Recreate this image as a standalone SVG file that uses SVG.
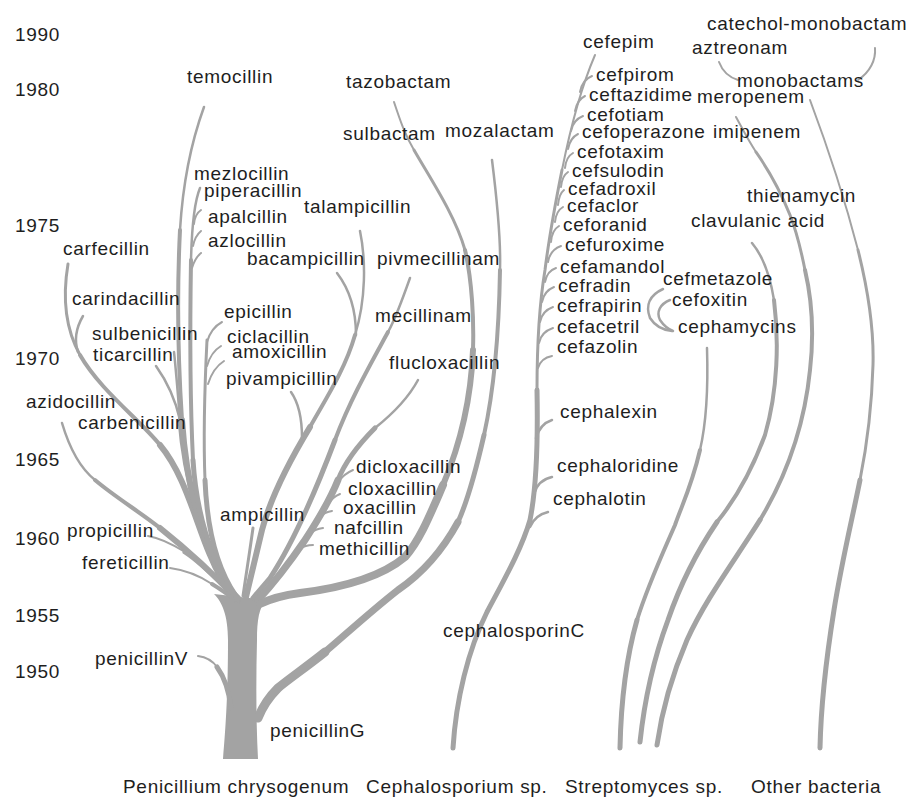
<svg xmlns="http://www.w3.org/2000/svg" width="914" height="801" viewBox="0 0 914 801">
<style>
.b{fill:none;stroke:#a3a3a3;stroke-linecap:round;stroke-linejoin:round}
.w2{stroke-width:2}.w25{stroke-width:2.5}.w3{stroke-width:3}.w4{stroke-width:4}.w5{stroke-width:5}.w6{stroke-width:6}.w7{stroke-width:7}.w8{stroke-width:8}.w9{stroke-width:9}
text{font-family:"Liberation Sans",Arial,Helvetica,sans-serif;font-size:19px;letter-spacing:0.7px;fill:#1e1e1e}
</style>
<rect width="914" height="801" fill="#ffffff"/>
<g id="connectors">
<path id="trunk" d="M223,759 L258,759 C256,720 256,680 257,640 C257,620 259,608 266,600 L214,594 C222,602 228,615 228,640 C228,690 226,725 223,759 Z" fill="#a3a3a3"/>
<!-- carfecillin -->
<path class="b w3" d="M68,264 C62,300 66,330 80,355"/>
<path class="b w4" d="M80,355 C100,390 140,420 160,445"/>
<path class="b w6" d="M160,445 C185,475 195,520 210,555 C218,575 228,590 236,600"/>
<path class="b w25" d="M83,316 C76,328 74,340 78,352"/>
<!-- azidocillin -->
<path class="b w25" d="M62,423 C70,450 80,468 95,480"/>
<path class="b w4" d="M95,480 C115,497 140,512 160,528"/>
<path class="b w6" d="M160,528 C185,548 210,570 236,598"/>
<!-- propicillin -->
<path class="b w2" d="M148,536 C160,538 172,544 185,552"/>
<path class="b w5" d="M185,552 C205,565 222,585 238,600"/>
<!-- fereticillin -->
<path class="b w2" d="M170,568 C185,570 200,576 212,584"/>
<path class="b w4" d="M212,584 C222,590 230,596 238,602"/>
<!-- sulbenicillin / ticarcillin / carbenicillin -->
<path class="b w25" d="M174,352 C176,370 178,395 180,420"/>
<path class="b w25" d="M156,366 C166,380 175,398 180,420"/>
<path class="b w5" d="M180,420 C183,460 192,500 205,540 C215,570 228,590 238,600"/>
<!-- temocillin -->
<path class="b w25" d="M204,107 C192,140 183,180 180,230"/>
<path class="b w4" d="M180,230 C177,290 178,360 182,420"/>
<path class="b w6" d="M182,420 C186,480 200,540 225,585 L238,598"/>
<!-- mezlocillin line -->
<path class="b w25" d="M200,188 C195,200 192,220 191,260"/>
<path class="b w4" d="M191,260 C190,320 190,400 193,460"/>
<path class="b w5" d="M193,460 C196,510 210,560 234,594"/>
<path class="b w2" d="M201,210 Q195,214 194,224"/>
<path class="b w2" d="M201,231 Q195,236 193,246"/>
<path class="b w2" d="M201,253 Q195,258 192,268"/>
<!-- epicillin line -->
<path class="b w3" d="M207,340 C205,380 203,430 205,480"/>
<path class="b w5" d="M205,480 C207,530 218,570 236,596"/>
<path class="b w2" d="M222,322 Q211,328 207,342"/>
<path class="b w2" d="M221,346 Q211,352 207,366"/>
<path class="b w2" d="M224,361 Q213,368 208,384"/>
<!-- ampicillin -->
<path class="b w3" d="M253,528 C250,550 246,575 243,596"/>
<!-- ampicillin esters -->
<path class="b w25" d="M360,231 C366,260 366,300 355,335"/>
<path class="b w4" d="M355,335 C345,370 325,400 310,427"/>
<path class="b w6" d="M310,427 C290,460 270,500 262,530 C255,560 250,580 246,597"/>
<path class="b w25" d="M337,273 C350,290 356,310 356,335"/>
<path class="b w25" d="M291,392 C298,402 302,418 302,438"/>
<!-- mecillinam -->
<path class="b w25" d="M410,278 C402,300 396,318 388,332"/>
<path class="b w4" d="M388,332 C370,365 350,400 335,440"/>
<path class="b w5" d="M335,440 C318,485 295,540 270,578 L253,598"/>
<!-- flucloxacillin -->
<path class="b w25" d="M418,380 C410,395 395,412 375,428"/>
<path class="b w5" d="M375,428 C358,445 345,462 338,480"/>
<path class="b w7" d="M338,480 C330,500 318,520 305,540 C290,562 272,585 258,600"/>
<path class="b w2" d="M353,470 Q344,474 339,481"/>
<path class="b w2" d="M340,494 Q333,497 329,503"/>
<path class="b w2" d="M332,511 Q325,512 321,516"/>
<path class="b w2" d="M323,528 Q315,529 311,533"/>
<path class="b w2" d="M313,545 Q305,545 300,549"/>
<!-- sulbactam / tazobactam -->
<path class="b w2" d="M394,102 C400,120 405,135 414,150"/>
<path class="b w3" d="M414,150 C430,178 455,215 465,250"/>
<path class="b w4" d="M465,250 C472,280 474,320 473,350"/>
<path class="b w6" d="M473,350 C471,400 460,445 443,485"/>
<path class="b w8" d="M443,485 C430,515 420,540 405,557 C380,578 340,588 300,593 C285,595 272,598 260,604"/>
<!-- mozalactam -->
<path class="b w25" d="M492,160 C497,200 501,240 500,270"/>
<path class="b w4" d="M500,270 C499,330 494,390 484,435"/>
<path class="b w5" d="M484,435 C476,470 468,500 458,522"/>
<path class="b w7" d="M458,522 C440,555 420,575 398,590 C370,612 345,635 325,652"/>
<path class="b w9" d="M325,652 C305,668 290,678 278,688 C268,698 262,708 258,718"/>
<!-- penicillinV -->
<path class="b w2" d="M198,656 C206,657 212,660 217,667"/>
<path class="b w5" d="M217,667 C225,678 229,690 231,708"/>
<!-- cephalosporin stem -->
<path class="b w2" d="M595,55 C580,90 570,130 562,170"/>
<path class="b w3" d="M562,170 C556,200 550,230 545,270 C540,300 537,340 537,390"/>
<path class="b w5" d="M537,390 C538,440 536,490 530,520 C522,548 505,578 487,612 C468,650 456,700 453,748"/>
<path class="b w2" d="M580,92 Q582,80 592,76"/>
<path class="b w2" d="M575,111 Q577,100 585,96"/>
<path class="b w2" d="M571,131 Q573,120 583,116"/>
<path class="b w2" d="M568,149 Q570,138 578,134"/>
<path class="b w2" d="M565,168 Q566,157 573,153"/>
<path class="b w2" d="M561,187 Q562,176 568,172"/>
<path class="b w2" d="M558,205 Q559,194 564,190"/>
<path class="b w2" d="M555,222 Q556,211 563,207"/>
<path class="b w2" d="M551,242 Q552,230 559,226"/>
<path class="b w2" d="M548,262 Q550,250 561,246"/>
<path class="b w2" d="M545,282 Q547,271 556,268"/>
<path class="b w2" d="M542,302 Q544,291 554,287"/>
<path class="b w2" d="M540,322 Q542,311 553,307"/>
<path class="b w2" d="M539,343 Q541,332 553,328"/>
<path class="b w2" d="M538,368 Q541,358 552,356"/>
<path class="b w25" d="M536,438 Q540,424 552,420"/>
<path class="b w25" d="M534,494 Q538,480 552,477"/>
<path class="b w25" d="M530,527 Q535,515 548,512"/>
<!-- cephamycins -->
<path class="b w25" d="M663,289 C650,295 645,305 650,318 C655,326 663,330 672,331"/>
<path class="b w25" d="M670,300 C660,304 656,312 660,320 C664,326 668,329 673,331"/>
<path class="b w25" d="M707,348 C708,380 707,420 700,450"/>
<path class="b w4" d="M700,450 C692,485 682,505 675,525 C662,555 648,585 637,620"/>
<path class="b w5" d="M637,620 C627,655 621,700 620,748"/>
<!-- clavulanic acid -->
<path class="b w25" d="M752,243 C762,255 770,275 774,300"/>
<path class="b w4" d="M774,300 C779,340 778,390 765,435 C752,470 735,500 717,522"/>
<path class="b w5" d="M717,522 C698,550 680,585 668,620 C655,655 645,695 640,742"/>
<!-- meropenem / imipenem / thienamycin -->
<path class="b w2" d="M736,117 C742,128 748,140 756,152"/>
<path class="b w3" d="M756,152 C770,172 782,195 790,215 C798,235 802,255 805,270"/>
<path class="b w4" d="M805,270 C812,300 814,335 810,370 C805,420 790,470 760,520"/>
<path class="b w5" d="M760,520 C735,560 705,600 687,640 C672,675 662,710 657,745"/>
<!-- monobactams -->
<path class="b w2" d="M719,62 C722,70 728,77 738,80"/>
<path class="b w2" d="M875,48 C876,60 870,72 858,80"/>
<path class="b w2" d="M810,100 C825,140 845,200 858,250"/>
<path class="b w3" d="M858,250 C868,290 874,330 873,365 C872,400 868,440 860,480"/>
<path class="b w5" d="M860,480 C852,520 842,560 834,610 C826,660 821,700 820,748"/>
</g>
<g id="years">
<text x="15" y="41">1990</text>
<text x="15" y="96">1980</text>
<text x="15" y="232">1975</text>
<text x="15" y="365">1970</text>
<text x="15" y="466">1965</text>
<text x="15" y="545">1960</text>
<text x="15" y="622">1955</text>
<text x="15" y="678">1950</text>
</g>
<g id="n-temocillin"><text x="187" y="83">temocillin</text></g>
<g id="n-mezlocillin"><text x="194" y="180">mezlocillin</text></g>
<g id="n-piperacillin"><text x="204" y="197">piperacillin</text></g>
<g id="n-apalcillin"><text x="208" y="223">apalcillin</text></g>
<g id="n-azlocillin"><text x="208" y="247">azlocillin</text></g>
<g id="n-carfecillin"><text x="63" y="255">carfecillin</text></g>
<g id="n-talampicillin"><text x="304" y="213">talampicillin</text></g>
<g id="n-bacampicillin"><text x="247" y="265">bacampicillin</text></g>
<g id="n-pivmecillinam"><text x="377" y="265">pivmecillinam</text></g>
<g id="n-carindacillin"><text x="72" y="305">carindacillin</text></g>
<g id="n-epicillin"><text x="224" y="318">epicillin</text></g>
<g id="n-mecillinam"><text x="375" y="322">mecillinam</text></g>
<g id="n-sulbenicillin"><text x="92" y="340">sulbenicillin</text></g>
<g id="n-ciclacillin"><text x="227" y="343">ciclacillin</text></g>
<g id="n-amoxicillin"><text x="232" y="358">amoxicillin</text></g>
<g id="n-ticarcillin"><text x="93" y="361">ticarcillin</text></g>
<g id="n-flucloxacillin"><text x="389" y="369">flucloxacillin</text></g>
<g id="n-pivampicillin"><text x="226" y="385">pivampicillin</text></g>
<g id="n-azidocillin"><text x="26" y="408">azidocillin</text></g>
<g id="n-carbenicillin"><text x="78" y="429">carbenicillin</text></g>
<g id="n-dicloxacillin"><text x="356" y="473">dicloxacillin</text></g>
<g id="n-cloxacillin"><text x="348" y="495">cloxacillin</text></g>
<g id="n-oxacillin"><text x="343" y="514">oxacillin</text></g>
<g id="n-ampicillin"><text x="220" y="521">ampicillin</text></g>
<g id="n-nafcillin"><text x="334" y="534">nafcillin</text></g>
<g id="n-propicillin"><text x="67" y="537">propicillin</text></g>
<g id="n-methicillin"><text x="319" y="555">methicillin</text></g>
<g id="n-fereticillin"><text x="82" y="569">fereticillin</text></g>
<g id="n-penicillinV"><text x="95" y="665">penicillinV</text></g>
<g id="n-penicillinG"><text x="270" y="737">penicillinG</text></g>
<g id="n-tazobactam"><text x="346" y="88">tazobactam</text></g>
<g id="n-sulbactam"><text x="343" y="140">sulbactam</text></g>
<g id="n-mozalactam"><text x="445" y="137">mozalactam</text></g>
<g id="n-cephalosporinC"><text x="443" y="637">cephalosporinC</text></g>
<g id="n-cefepim"><text x="583" y="48">cefepim</text></g>
<g id="n-cefpirom"><text x="596" y="81">cefpirom</text></g>
<g id="n-ceftazidime"><text x="589" y="101">ceftazidime</text></g>
<g id="n-cefotiam"><text x="587" y="121">cefotiam</text></g>
<g id="n-cefoperazone"><text x="582" y="138">cefoperazone</text></g>
<g id="n-cefotaxim"><text x="577" y="158">cefotaxim</text></g>
<g id="n-cefsulodin"><text x="572" y="177">cefsulodin</text></g>
<g id="n-cefadroxil"><text x="568" y="195">cefadroxil</text></g>
<g id="n-cefaclor"><text x="567" y="212">cefaclor</text></g>
<g id="n-ceforanid"><text x="563" y="231">ceforanid</text></g>
<g id="n-cefuroxime"><text x="565" y="251">cefuroxime</text></g>
<g id="n-cefamandol"><text x="560" y="273">cefamandol</text></g>
<g id="n-cefradin"><text x="558" y="292">cefradin</text></g>
<g id="n-cefrapirin"><text x="557" y="312">cefrapirin</text></g>
<g id="n-cefacetril"><text x="557" y="333">cefacetril</text></g>
<g id="n-cefazolin"><text x="557" y="353">cefazolin</text></g>
<g id="n-cephalexin"><text x="560" y="418">cephalexin</text></g>
<g id="n-cephaloridine"><text x="557" y="472">cephaloridine</text></g>
<g id="n-cephalotin"><text x="553" y="505">cephalotin</text></g>
<g id="n-cefmetazole"><text x="663" y="285">cefmetazole</text></g>
<g id="n-cefoxitin"><text x="672" y="306">cefoxitin</text></g>
<g id="n-cephamycins"><text x="678" y="333">cephamycins</text></g>
<g id="n-catechol-monobactam"><text x="707" y="30">catechol-monobactam</text></g>
<g id="n-aztreonam"><text x="692" y="54">aztreonam</text></g>
<g id="n-monobactams"><text x="737" y="87">monobactams</text></g>
<g id="n-meropenem"><text x="697" y="103">meropenem</text></g>
<g id="n-imipenem"><text x="713" y="138">imipenem</text></g>
<g id="n-thienamycin"><text x="747" y="202">thienamycin</text></g>
<g id="n-clavulanic"><text x="691" y="227">clavulanic acid</text></g>
<g id="captions">
<text x="123" y="793">Penicillium chrysogenum</text>
<text x="366" y="793">Cephalosporium sp.</text>
<text x="565" y="793">Streptomyces sp.</text>
<text x="751" y="793">Other bacteria</text>
</g>
</svg>
